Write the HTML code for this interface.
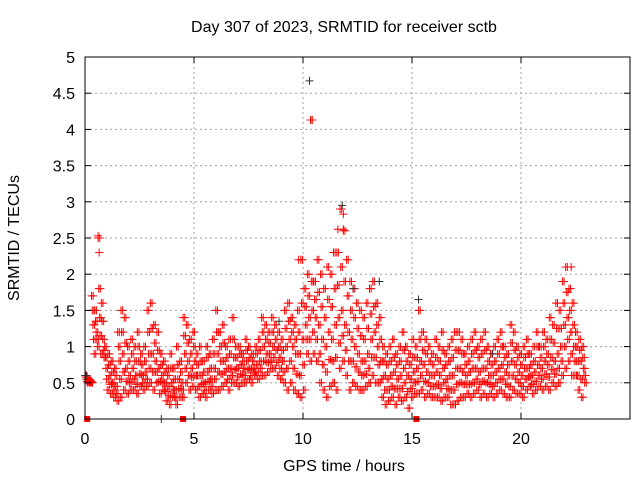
<!DOCTYPE html>
<html><head><meta charset="utf-8"><style>
body{margin:0;background:#fff}
svg{display:block;font-family:"Liberation Sans",sans-serif}
</style></head><body>
<svg id="chart" width="640" height="480" viewBox="0 0 640 480">
<rect x="0" y="0" width="640" height="480" fill="#fff"/>
<g id="grid"></g>
<g id="marks"></g>
<rect x="85" y="57" width="545" height="362" fill="none" stroke="#000" stroke-width="1"/>
<g id="ticks"></g>
<text x="344" y="32" text-anchor="middle" font-size="16">Day 307 of 2023, SRMTID for receiver sctb</text>
<text x="344" y="471" text-anchor="middle" font-size="16">GPS time / hours</text>
<text transform="translate(19,238) rotate(-90)" text-anchor="middle" font-size="16">SRMTID / TECUs</text>
</svg>
<script>
const xTicks=[0,5,10,15,20];
const yTicks=[0,0.5,1,1.5,2,2.5,3,3.5,4,4.5,5];
const yTickLabels=["0","0.5","1","1.5","2","2.5","3","3.5","4","4.5","5"];
const step=0.15;
const hiVals=[0.6,0.55,1.7,1.5,2.5,1.6,1.0,0.9,0.8,0.7,1.2,1.5,1.4,1.0,1.1,1.0,1.2,0.9,1.0,1.5,1.6,1.3,1.2,0.9,0.8,0.7,0.9,0.7,1.0,0.8,1.4,1.3,1.1,1.2,0.9,1.0,0.8,1.0,0.9,1.1,1.5,1.2,1.3,1.0,1.1,1.4,1.0,1.0,0.9,1.1,1.0,0.9,1.0,1.1,1.4,1.3,1.2,1.4,1.3,1.2,1.1,1.5,1.6,1.4,1.3,1.5,2.2,1.8,2.0,4.13,1.9,2.2,2.0,1.8,2.1,2.0,2.3,2.3,2.9,2.6,2.2,1.9,1.8,1.6,1.5,1.4,1.6,1.8,1.9,1.6,1.4,1.0,0.9,1.0,1.1,0.9,1.0,1.2,1.0,0.9,1.1,1.0,1.5,1.2,1.1,1.0,0.9,1.1,1.0,1.2,0.9,1.0,1.1,1.2,1.2,1.1,0.9,1.0,1.1,1.2,1.0,1.1,1.2,1.0,0.9,1.0,1.1,1.2,1.0,0.9,1.3,1.2,1.0,0.9,1.0,1.1,0.9,1.0,1.2,1.0,1.2,1.1,1.4,1.3,1.6,1.5,1.9,2.1,1.8,1.6,1.2,1.1,1.0];
const q1Vals=[0.58,0.53,1.5,1.35,1.8,1.35,0.85,0.75,0.65,0.6,1.0,1.2,1.05,0.8,0.9,0.8,1.0,0.75,0.8,1.2,1.25,1.05,0.95,0.75,0.65,0.6,0.7,0.55,0.75,0.65,1.15,1.05,0.9,1.0,0.75,0.8,0.65,0.85,0.7,0.9,1.2,1.0,1.05,0.85,0.9,1.1,0.85,0.9,0.8,0.95,0.85,0.8,0.9,0.95,1.2,1.1,1.05,1.2,1.1,1.0,0.95,1.25,1.35,1.2,1.1,1.2,1.6,1.55,1.7,1.9,1.65,1.75,1.55,1.4,1.65,1.55,1.8,1.85,2.1,1.9,1.7,1.5,1.4,1.25,1.15,1.1,1.25,1.45,1.55,1.3,1.1,0.8,0.75,0.8,0.85,0.75,0.8,0.95,0.8,0.75,0.85,0.85,1.1,0.95,0.9,0.8,0.75,0.85,0.8,0.95,0.75,0.8,0.85,0.95,0.95,0.9,0.75,0.8,0.9,0.95,0.85,0.9,0.95,0.8,0.75,0.8,0.9,1.0,0.85,0.75,1.05,0.95,0.85,0.75,0.85,0.9,0.75,0.8,1.0,0.85,1.0,0.9,1.1,1.05,1.25,1.25,1.6,1.75,1.5,1.3,1.0,0.95,0.85];
const midVals=[0.55,0.52,1.3,1.2,1.4,1.1,0.7,0.6,0.5,0.45,0.8,0.9,0.7,0.6,0.7,0.6,0.8,0.6,0.65,0.9,0.9,0.8,0.7,0.6,0.5,0.45,0.5,0.4,0.55,0.5,0.9,0.8,0.7,0.8,0.6,0.6,0.5,0.65,0.55,0.7,0.9,0.8,0.8,0.7,0.7,0.85,0.7,0.75,0.7,0.8,0.7,0.7,0.75,0.8,1.0,0.9,0.9,1.0,0.95,0.85,0.8,1.0,1.1,1.0,0.9,0.9,1.1,1.3,1.4,1.5,1.4,1.3,1.1,1.0,1.2,1.1,1.3,1.4,1.5,1.3,1.2,1.1,1.0,0.9,0.8,0.8,0.9,1.1,1.2,1.0,0.8,0.6,0.55,0.6,0.65,0.55,0.6,0.7,0.6,0.55,0.65,0.7,0.8,0.75,0.65,0.6,0.6,0.65,0.6,0.7,0.55,0.6,0.6,0.7,0.7,0.65,0.6,0.65,0.7,0.7,0.65,0.7,0.7,0.6,0.6,0.65,0.7,0.75,0.65,0.6,0.8,0.75,0.65,0.6,0.7,0.7,0.6,0.65,0.75,0.7,0.8,0.75,0.85,0.8,0.9,1.0,1.3,1.4,1.2,1.0,0.8,0.8,0.7];
const q2Vals=[0.52,0.51,1.1,1.1,1.15,0.95,0.55,0.48,0.4,0.35,0.55,0.65,0.52,0.5,0.55,0.48,0.62,0.5,0.55,0.7,0.65,0.65,0.52,0.5,0.38,0.32,0.4,0.3,0.42,0.4,0.7,0.6,0.58,0.6,0.45,0.48,0.4,0.52,0.45,0.55,0.65,0.62,0.65,0.55,0.6,0.68,0.58,0.62,0.6,0.68,0.6,0.65,0.65,0.7,0.8,0.78,0.8,0.85,0.78,0.7,0.65,0.7,0.8,0.7,0.62,0.6,0.75,1.1,1.1,1.2,1.1,0.9,0.75,0.65,0.82,0.8,0.85,1.05,1.15,0.95,0.8,0.8,0.72,0.65,0.6,0.62,0.7,0.85,0.85,0.75,0.55,0.4,0.4,0.45,0.42,0.42,0.42,0.5,0.38,0.42,0.5,0.52,0.6,0.52,0.5,0.45,0.45,0.48,0.42,0.5,0.42,0.4,0.4,0.48,0.5,0.48,0.48,0.48,0.5,0.55,0.48,0.52,0.5,0.48,0.45,0.5,0.55,0.55,0.48,0.45,0.6,0.55,0.5,0.45,0.55,0.58,0.48,0.52,0.6,0.55,0.62,0.58,0.68,0.62,0.7,0.8,1.0,1.1,0.9,0.8,0.6,0.55,0.6];
const loVals=[0.5,0.5,0.9,1.0,0.9,0.85,0.4,0.35,0.3,0.25,0.3,0.4,0.35,0.4,0.4,0.35,0.45,0.4,0.45,0.5,0.4,0.5,0.35,0.4,0.25,0.2,0.3,0.2,0.3,0.3,0.5,0.4,0.45,0.4,0.3,0.35,0.3,0.4,0.35,0.4,0.4,0.45,0.5,0.4,0.5,0.5,0.45,0.5,0.5,0.55,0.5,0.6,0.55,0.6,0.6,0.65,0.7,0.7,0.6,0.55,0.5,0.4,0.5,0.4,0.35,0.3,0.4,0.9,0.8,0.9,0.8,0.5,0.4,0.3,0.45,0.5,0.4,0.7,0.8,0.6,0.4,0.5,0.45,0.4,0.4,0.45,0.5,0.6,0.5,0.5,0.3,0.2,0.25,0.3,0.2,0.3,0.25,0.3,0.15,0.3,0.35,0.35,0.4,0.3,0.35,0.3,0.3,0.3,0.25,0.3,0.3,0.2,0.2,0.25,0.3,0.3,0.35,0.3,0.35,0.4,0.3,0.35,0.3,0.35,0.3,0.35,0.4,0.35,0.3,0.3,0.4,0.35,0.35,0.3,0.4,0.45,0.35,0.4,0.45,0.4,0.45,0.4,0.5,0.45,0.5,0.6,0.7,0.8,0.6,0.6,0.4,0.3,0.5];
const extraRedT=[0.6,0.65,11.6,11.85,11.85,10.35,9.8,22.3];
const extraRedV=[2.53,2.3,2.62,2.83,2.62,4.13,2.2,2.1];
const blackT=[10.3,11.8,0.05,15.3,3.5,13.5,12.3,8.9,18.7];
const blackV=[4.67,2.95,0.6,1.65,0.0,1.9,1.8,1.35,0.9];
const zeroT=[0.1,4.5,15.2];

const X0=85,X1=630,Y0=419,Y1=57,XMAX=25,YMAX=5;
const sx=t=>X0+(X1-X0)*t/XMAX;
const sy=v=>Y0-(Y0-Y1)*v/YMAX;
const NS="http://www.w3.org/2000/svg";
const grid=document.getElementById('grid'),marks=document.getElementById('marks'),ticks=document.getElementById('ticks');
function mk(tag,attrs,parent){const e=document.createElementNS(NS,tag);for(const k in attrs)e.setAttribute(k,attrs[k]);parent.appendChild(e);return e;}
yTicks.forEach((v,i)=>{
  const y=sy(v);
  if(v>0&&v<YMAX){const g=mk('line',{x1:X0,x2:X1,y1:y,y2:y,stroke:'#a0a0a0','stroke-dasharray':'2,3'},grid);
  
  }
  mk('line',{x1:X0,x2:X0+6,y1:y,y2:y,stroke:'#000'},ticks);
  mk('line',{x1:X1,x2:X1-6,y1:y,y2:y,stroke:'#000'},ticks);
  const t=mk('text',{x:X0-10,y:y+6,'text-anchor':'end','font-size':'16'},ticks);
  t.textContent=yTickLabels[i];
  
  
});
xTicks.forEach(v=>{
  const x=sx(v);
  if(v>0){const g=mk('line',{x1:x,x2:x,y1:Y0,y2:Y1,stroke:'#a0a0a0','stroke-dasharray':'2,3'},grid);
  
  }
  mk('line',{x1:x,x2:x,y1:Y0,y2:Y0-6,stroke:'#000'},ticks);
  mk('line',{x1:x,x2:x,y1:Y1,y2:Y1+6,stroke:'#000'},ticks);
  const t=mk('text',{x:x,y:Y0+25,'text-anchor':'middle','font-size':'16'},ticks);
  t.textContent=String(v);
  
  
});
function plus(t,v,col){
  const x=sx(t),y=sy(v);
  const p=mk('path',{d:`M${x-4},${y}h8M${x},${y-4}v8`,stroke:col,'stroke-width':1,fill:'none'},marks);
  
  
}
const series=[hiVals,q1Vals,midVals,q2Vals,loVals];
series.forEach((arr,k)=>{
  arr.forEach((v,i)=>{
    plus(i*step+k*0.03,v,'#f00');
    plus(i*step+k*0.03+0.075,v,'#f00');
  });
});
extraRedT.forEach((t,i)=>plus(t,extraRedV[i],'#f00'));
blackT.forEach((t,i)=>plus(t,blackV[i],'#333'));
zeroT.forEach(t=>{
  const r=mk('rect',{x:sx(t)-3,y:Y0-3,width:6,height:6,fill:'#f00'},marks);
  
  
});
</script>
</body></html>
